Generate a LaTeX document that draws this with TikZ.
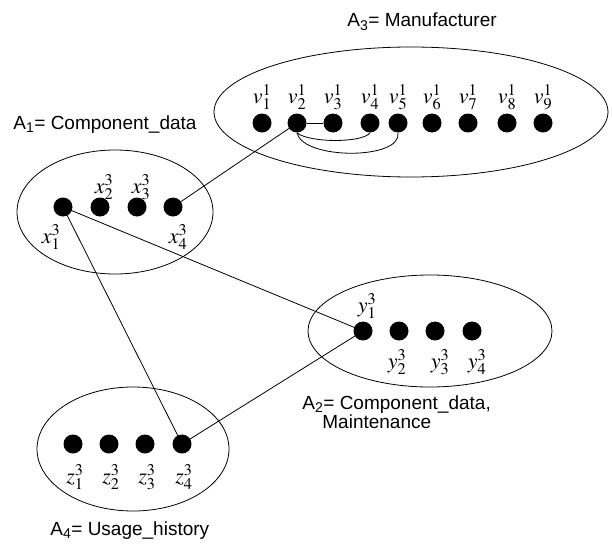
\documentclass[tikz,border=0pt]{standalone}
\usepackage{mathptmx}
\usepackage{fontspec}
\setmainfont{Liberation Sans}
\begin{document}
\begin{tikzpicture}[x=1pt,y=-1pt,
  dot/.style={circle,fill=black,minimum size=19pt,inner sep=0pt},
  lab/.style={inner sep=0pt,anchor=base,font=\fontsize{22}{24}\selectfont},
  title/.style={inner sep=0pt,anchor=base west,font=\fontsize{19}{21}\selectfont},
  every path/.style={line width=0.8pt}]
\useasboundingbox (0,0) rectangle (612,551);

% groups
\draw (411,112) ellipse [x radius=197, y radius=65];
\draw (115,212) ellipse [x radius=98, y radius=62];
\draw (430,331) ellipse [x radius=122, y radius=56];
\draw (133,449) ellipse [x radius=96, y radius=62];

% titles
\node[title] (t3) at (347,27) {A\textsubscript{3}= Manufacturer};
\node[title] (t1) at (13,129) {A\textsubscript{1}= Component\_data};
\node[title] (t2) at (302,409) {A\textsubscript{2}= Component\_data,};
\node[title] (t2b) at (322,428) {Maintenance};
\node[title] (t4) at (50,535) {A\textsubscript{4}= Usage\_history};

% A3 elements
\foreach \i/\x in {1/262,2/297,3/333,4/370,5/398,6/432,7/468,8/507,9/543}{
  \node[dot] (v\i) at (\x,123) {};
  \node[lab] (lv\i) at (\x,103) {$v^{1}_{\i}$};
}
% A1 elements
\foreach \i/\x in {1/63,2/100,3/137,4/173}{
  \node[dot] (x\i) at (\x,207) {};
}
\node[lab] (lx1) at (51,243) {$x^{3}_{1}$};
\node[lab] (lx2) at (104,193) {$x^{3}_{2}$};
\node[lab] (lx3) at (141,193) {$x^{3}_{3}$};
\node[lab] (lx4) at (178,243) {$x^{3}_{4}$};
% A2 elements
\foreach \i/\x in {1/363,2/399,3/435,4/472}{
  \node[dot] (y\i) at (\x,331) {};
}
\node[lab] (ly1) at (367,312) {$y^{3}_{1}$};
\node[lab] (ly2) at (397,368) {$y^{3}_{2}$};
\node[lab] (ly3) at (440,368) {$y^{3}_{3}$};
\node[lab] (ly4) at (477,368) {$y^{3}_{4}$};
% A4 elements
\foreach \i/\x in {1/73,2/109,3/145,4/182}{
  \node[dot] (z\i) at (\x,444) {};
  \node[lab] (lz\i) at (\x+2,483) {$z^{3}_{\i}$};
}

% links inside A3
\draw (v2) -- (v3);
\draw (v2.south) .. controls (310,143) and (362,143) .. (v4.south);
\draw (v2.south) .. controls (303,160) and (402,160) .. (v5.south);
% links between groups
\draw (x4.center) -- (v2.center);
\draw (x1.center) -- (y1.center);
\draw (x1.center) -- (z4.center);
\draw (z4.center) -- (y1.center);
\end{tikzpicture}
\end{document}
